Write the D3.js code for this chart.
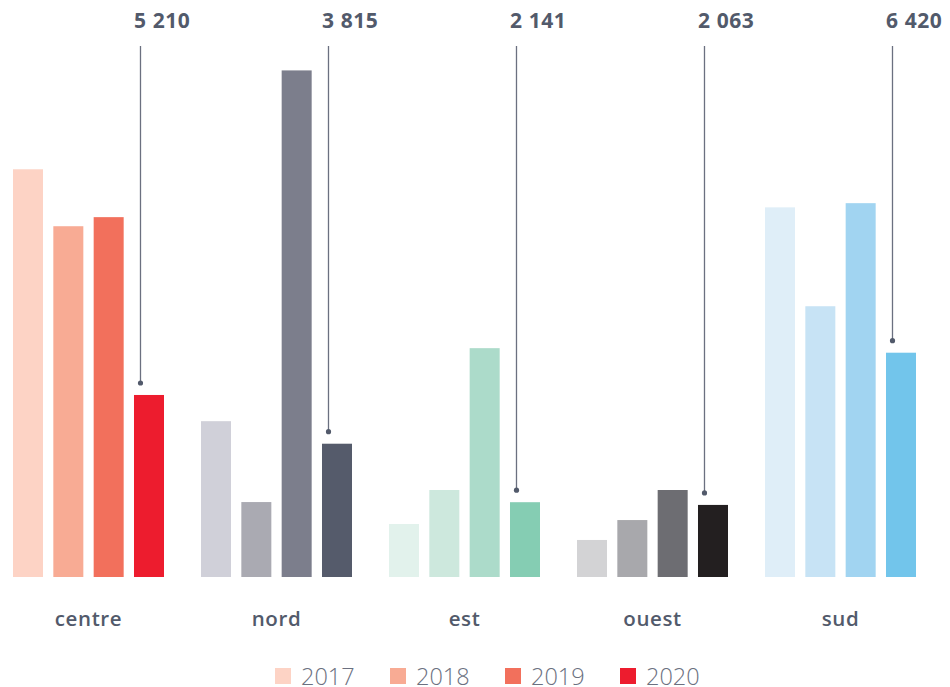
<!DOCTYPE html>
<html>
<head>
<meta charset="utf-8">
<script src="https://cdn.jsdelivr.net/npm/d3@7"></script>
<style>
  html, body { margin: 0; padding: 0; background: #fff; }
  svg { display: block; }
</style>
</head>
<body>
<svg id="chart" width="950" height="687"></svg>
<script>
// Regions along the x axis
const regions = ["centre", "nord", "est", "ouest", "sud"];
// Years shown within each region
const years = ["2017", "2018", "2019", "2020"];
// Values per region, one per year
const valuesCentre = [11670, 10040, 10300, 5210];
const valuesNord   = [4460, 2145, 14500, 3815];
const valuesEst    = [1516, 2490, 6550, 2141];
const valuesOuest  = [1060, 1630, 2490, 2063];
const valuesSud    = [10580, 7750, 10700, 6420];
// Palette per region (light to dark by year)
const colorsCentre = ["#fdd3c5", "#f8ab94", "#f2705c", "#ed1c2e"];
const colorsNord   = ["#d0d0d9", "#aaaab2", "#7c7e8c", "#555b6b"];
const colorsEst    = ["#e2f2ec", "#cde8dd", "#acdbca", "#85cdb3"];
const colorsOuest  = ["#d3d3d5", "#a8a8ac", "#6d6d72", "#231f20"];
const colorsSud    = ["#dfeef8", "#c7e3f5", "#a1d4f1", "#72c5eb"];

const series = [valuesCentre, valuesNord, valuesEst, valuesOuest, valuesSud];
const palettes = [colorsCentre, colorsNord, colorsEst, colorsOuest, colorsSud];

const rows = regions.map((r, i) => ({
  region: r,
  bars: years.map((y, j) => ({ year: y, value: series[i][j], color: palettes[i][j] }))
}));

const svg = d3.select("#chart");
const baseline = 577;

const x0 = d3.scaleBand().domain(regions).range([-5.5, 934.5]);
const x1 = d3.scaleBand().domain(years).range([18.5, 169.5]).paddingInner(0.256).paddingOuter(0);
const y = d3.scaleLinear().domain([0, 16000]).range([baseline, 18]);

const textColor = "#525a6b";
const fmt = v => d3.format(",")(v).replace(/,/g, " ");

const groups = svg.selectAll("g.region")
  .data(rows)
  .join("g")
  .attr("class", "region")
  .attr("transform", d => `translate(${x0(d.region)},0)`);

groups.selectAll("rect")
  .data(d => d.bars)
  .join("rect")
  .attr("x", d => x1(d.year))
  .attr("y", d => y(d.value))
  .attr("width", x1.bandwidth())
  .attr("height", d => baseline - y(d.value))
  .attr("fill", d => d.color);

// Leader line and value callout for the latest year
groups.each(function(d) {
  const g = d3.select(this);
  const last = d.bars[d.bars.length - 1];
  const bx = x1(last.year);
  const lx = bx + 6.5;
  const dotY = y(last.value) - 12;
  g.append("line")
    .attr("x1", lx).attr("x2", lx)
    .attr("y1", 46).attr("y2", dotY)
    .attr("stroke", "#6b7080").attr("stroke-width", 1.3);
  g.append("circle")
    .attr("cx", lx).attr("cy", dotY).attr("r", 2.6)
    .attr("fill", "#525a6b");
  g.append("text")
    .attr("x", bx)
    .attr("y", 28)
    .attr("fill", textColor)
    .attr("font-family", "'Open Sans', sans-serif")
    .attr("font-weight", 700)
    .attr("font-size", 21)
    .attr("letter-spacing", 0.6)
    .text(fmt(last.value));
});

// Category axis labels
const xAxis = d3.axisBottom(x0).tickSize(0).tickPadding(0);
const axisG = svg.append("g")
  .attr("transform", `translate(0,${baseline + 49})`)
  .call(xAxis);
axisG.select(".domain").remove();
axisG.selectAll("text")
  .attr("fill", textColor)
  .attr("font-family", "'Open Sans', sans-serif")
  .attr("font-weight", 600)
  .attr("font-size", 20.5)
  .attr("letter-spacing", 0.6)
  .attr("dy", 0);

// Legend
const legend = svg.append("g").attr("transform", "translate(275,668)");
const item = legend.selectAll("g")
  .data(years.map((yr, i) => ({ yr, color: colorsCentre[i] })))
  .join("g")
  .attr("transform", (d, i) => `translate(${i * 115},0)`);
item.append("rect")
  .attr("width", 16).attr("height", 16)
  .attr("fill", d => d.color);
item.append("text")
  .attr("x", 26).attr("y", 16.5)
  .attr("fill", "#6b7080")
  .attr("font-family", "'Open Sans', sans-serif")
  .attr("font-weight", 300)
  .attr("font-size", 23.5)
  .text(d => d.yr);
</script>
</body>
</html>
